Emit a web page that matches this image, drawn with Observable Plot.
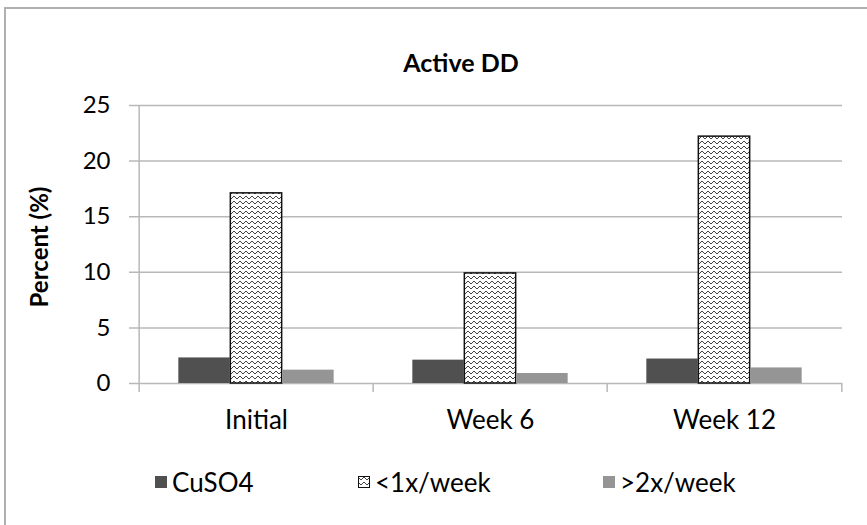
<!DOCTYPE html>
<html>
<head>
<meta charset="utf-8">
<script src="https://cdn.jsdelivr.net/npm/d3@7"></script>
<script src="https://cdn.jsdelivr.net/npm/@observablehq/plot@0.6"></script>
<style>
  html, body { margin: 0; padding: 0; background: #fff; overflow: hidden; }
  #wrap { position: relative; width: 867px; height: 525px; overflow: hidden; font-family: Lato, "Open Sans", sans-serif; }
  #frame { position: absolute; left: 4px; top: 7px; right: 0; bottom: 0; border-left: 2px solid #b0b0b0; border-top: 2px solid #b0b0b0; }
  #title { position: absolute; left: 0; width: 922px; top: 47px; line-height: 30px; text-align: center; font-weight: bold; font-size: 25px; color: #000; }
  .leg { position: absolute; top: 466px; line-height: 32px; font-size: 26px; color: #000; display: flex; align-items: center; }
  .sw { width: 12px; height: 12px; margin-right: 5px; box-sizing: border-box; flex: none; }
  #chart { position: absolute; left: 0; top: 0; }
</style>
</head>
<body>
<div id="wrap">
  <div id="frame"></div>
  <div id="chart"></div>
  <div id="title">Active DD</div>
  <div id="legend"></div>
</div>
<script>
const categories = ["Initial", "Week 6", "Week 12"];
const seriesNames = ["CuSO4", "<1x/week", ">2x/week"];
const cuso4 = [2.3, 2.1, 2.2];
const lessThan1 = [17.1, 9.9, 22.2];
const moreThan2 = [1.2, 0.9, 1.4];
const yTicks = [0, 5, 10, 15, 20, 25];

const seriesValues = [cuso4, lessThan1, moreThan2];
const fills = ["#505050", "url(#zigzag)", "#959595"];
const strokes = [null, "#111", null];
const offsets = [-52, 0, 52];

const rows = seriesValues.map(vals => categories.map((c, i) => ({category: c, value: vals[i]})));

const bandStep = (842 - 138) / categories.length;
const inset = (bandStep - 52) / 2;
const font = "Lato, 'Open Sans', sans-serif";

const marks = [
  Plot.ruleY(yTicks, {stroke: "#b8b8b8", strokeWidth: 1.5, insetLeft: -9}),
  Plot.axisY({ticks: yTicks, tickSize: 0, tickPadding: 28, fontSize: 24, label: null}),
  Plot.axisX({tickSize: 0, tickPadding: 27, fontSize: 26, label: null}),
  Plot.ruleX(categories, {x: d => d, dx: -bandStep / 2, y1: -0.8, y2: 25, stroke: "#b8b8b8", strokeWidth: 1.5, filter: (d, i) => i === 0}),
  Plot.ruleX(categories, {x: d => d, dx: -bandStep / 2, y1: -0.8, y2: 0, stroke: "#b8b8b8", strokeWidth: 1.5, filter: (d, i) => i > 0}),
  Plot.ruleX(categories, {x: d => d, dx: bandStep / 2, y1: -0.8, y2: 0, stroke: "#b8b8b8", strokeWidth: 1.5, filter: (d, i) => i === categories.length - 1}),
];
rows.forEach((data, s) => {
  marks.push(Plot.barY(data, {
    x: "category", y: "value",
    fill: fills[s],
    stroke: strokes[s] || "none",
    strokeWidth: 1.5,
    insetLeft: inset, insetRight: inset,
    dx: offsets[s]
  }));
});

const chart = Plot.plot({
  width: 867,
  height: 525,
  marginLeft: 138,
  marginRight: 25,
  marginTop: 105,
  marginBottom: 142,
  style: {fontFamily: font, color: "#000", background: "transparent", overflow: "visible"},
  x: {domain: categories, padding: 0, axis: null},
  y: {domain: [0, 25], axis: null},
  marks
});

const ns = "http://www.w3.org/2000/svg";
const defs = document.createElementNS(ns, "defs");
defs.innerHTML = `<pattern id="zigzag" patternUnits="userSpaceOnUse" width="6" height="5">
  <rect width="6" height="5" fill="#fff"/>
  <path d="M0,1 L3,4 L6,1" fill="none" stroke="#444" stroke-width="1"/>
</pattern>`;
chart.insertBefore(defs, chart.firstChild);

const yl = document.createElementNS(ns, "text");
yl.setAttribute("transform", "translate(48,247) rotate(-90)");
yl.setAttribute("text-anchor", "middle");
yl.setAttribute("font-weight", "bold");
yl.setAttribute("font-size", "24");
yl.setAttribute("font-family", font);
yl.textContent = "Percent (%)";
chart.appendChild(yl);

document.getElementById("chart").appendChild(chart);

const legPos = [155, 358, 603];
const legend = document.getElementById("legend");
seriesNames.forEach((name, s) => {
  const item = document.createElement("div");
  item.className = "leg";
  item.style.left = legPos[s] + "px";
  const sw = document.createElement("div");
  sw.className = "sw";
  if (s === 1) {
    sw.innerHTML = `<svg width="12" height="12" style="display:block"><rect x="0.5" y="0.5" width="11" height="11" fill="url(#zigzag)" stroke="#111"/></svg>`;
  } else {
    sw.style.background = fills[s];
  }
  const t = document.createElement("span");
  t.textContent = name;
  item.appendChild(sw);
  item.appendChild(t);
  legend.appendChild(item);
});
</script>
</body>
</html>
